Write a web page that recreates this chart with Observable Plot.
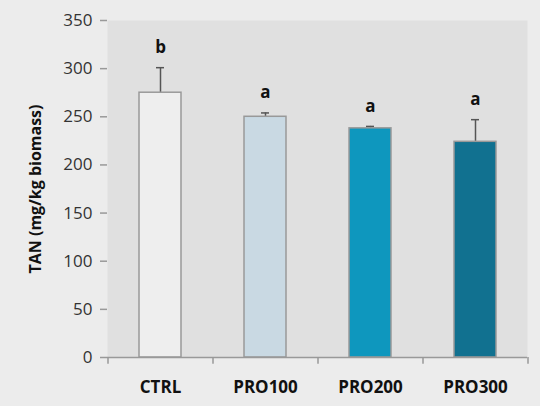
<!DOCTYPE html>
<html>
<head>
<meta charset="utf-8">
<script src="https://cdn.jsdelivr.net/npm/d3@7"></script>
<script src="https://cdn.jsdelivr.net/npm/@observablehq/plot@0.6"></script>
<style>
  html, body { margin: 0; padding: 0; background: #ececec; }
  #chart { width: 540px; height: 406px; }
</style>
</head>
<body>
<div id="chart"></div>
<script>
// ── data ─────────────────────────────────────────
const groups  = ["CTRL", "PRO100", "PRO200", "PRO300"];
const means   = [275, 250, 238, 224];
const sds     = [26, 4, 2, 23];
const letters = ["b", "a", "a", "a"];
const fills   = ["#eeeeee", "#c9d9e3", "#0e97be", "#117190"];
const yTicks  = [0, 50, 100, 150, 200, 250, 300, 350];

const rows = groups.map((g, i) => ({
  group: g, mean: means[i], sd: sds[i], letter: letters[i]
}));

const step = 105; // band step in px (range 420 / 4)

const chart = Plot.plot({
  width: 540,
  height: 406,
  marginLeft: 107,
  marginRight: 13,
  marginTop: 20,
  marginBottom: 49,
  style: { background: "#ececec", fontFamily: "'Open Sans', sans-serif", overflow: "visible" },
  x: { domain: groups, paddingInner: 0.6, paddingOuter: 0.3, label: null, axis: null },
  y: { domain: [0, 350], ticks: yTicks, label: null, axis: null },
  color: { domain: groups, range: fills },
  marks: [
    Plot.frame({ fill: "#e0e0e0", stroke: null }),
    // error bars (upper half only)
    Plot.ruleX(rows, { x: "group", y1: "mean", y2: d => d.mean + d.sd, stroke: "#555", strokeWidth: 1.5 }),
    Plot.tickY(rows, { x: "group", y: d => d.mean + d.sd, stroke: "#555", strokeWidth: 1.5, insetLeft: 17, insetRight: 17 }),
    Plot.barY(rows, { x: "group", y: "mean", fill: "group", stroke: "#999", strokeWidth: 1.5 }),
    Plot.text(rows, {
      x: "group", y: d => d.mean + d.sd, text: "letter", dy: -20,
      fontSize: 17, fontWeight: "bold", fill: "#111"
    }),
    // y axis
    Plot.axisY({
      ticks: yTicks, tickSize: 7, tickPadding: 8, fontSize: 17,
      stroke: "#999", strokeWidth: 1.5, color: "#333", label: null
    }),
    Plot.ruleX([0], { x: () => null, frameAnchor: "left", y1: 0, y2: 350, stroke: "#999", strokeWidth: 1.5 }),
    // x axis line and boundary ticks
    Plot.ruleY([0], { stroke: "#999", strokeWidth: 1.5 }),
    Plot.ruleX(groups, { x: d => d, dx: -step / 2, y1: 0, y2: -7, stroke: "#999", strokeWidth: 1.5 }),
    Plot.ruleX(groups.slice(-1), { x: d => d, dx: step / 2, y1: 0, y2: -7, stroke: "#999", strokeWidth: 1.5 }),
    Plot.axisX({ tickSize: 0, tickPadding: 23, fontSize: 17, fontWeight: "bold", color: "#111", label: null }),
    // y label
    Plot.text(["TAN (mg/kg biomass)"], {
      frameAnchor: "left", textAnchor: "middle", dx: -72, rotate: -90, text: d => d,
      fontSize: 16, fontWeight: "bold", fill: "#111"
    })
  ]
});

document.getElementById("chart").appendChild(chart);
</script>
</body>
</html>
